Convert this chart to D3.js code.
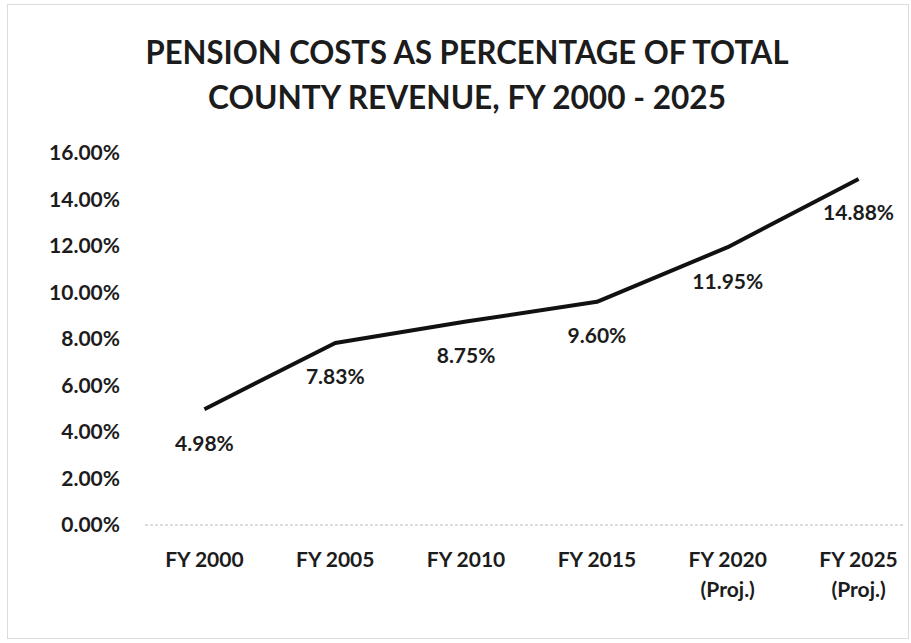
<!DOCTYPE html>
<html>
<head>
<meta charset="utf-8">
<script src="https://cdn.jsdelivr.net/npm/d3@7"></script>
<style>
  body { margin: 0; background: #fff; }
  text { font-family: Lato, "Open Sans", sans-serif; font-weight: bold; fill: #1c1c1c; }
</style>
</head>
<body>
<div id="chart"></div>
<script>
// chart data
const titleLines = ["PENSION COSTS AS PERCENTAGE OF TOTAL", "COUNTY REVENUE, FY 2000 - 2025"];
const titleWidths = [643, 518];
const categories = [["FY 2000"], ["FY 2005"], ["FY 2010"], ["FY 2015"], ["FY 2020", "(Proj.)"], ["FY 2025", "(Proj.)"]];
const values = [4.98, 7.83, 8.75, 9.60, 11.95, 14.88];
const yTicks = [0, 2, 4, 6, 8, 10, 12, 14, 16];

const W = 911, H = 643;
const svg = d3.select('#chart').append('svg')
  .attr('width', W).attr('height', H);

// faint scan border
svg.append('rect')
  .attr('x', 7.5).attr('y', 4.5).attr('width', 901).attr('height', 634)
  .attr('fill', 'none').attr('stroke', '#dcdcdc').attr('stroke-width', 1);

const x = d3.scaleBand().domain(d3.range(categories.length)).range([139, 924]);
const y = d3.scaleLinear().domain([0, 16]).range([525, 153]);
const cx = i => x(i) + x.bandwidth() / 2;

// title
svg.selectAll('.title')
  .data(titleLines)
  .enter().append('text')
    .attr('class', 'title')
    .attr('x', 467)
    .attr('y', (d, i) => 64 + i * 45)
    .attr('text-anchor', 'middle')
    .attr('textLength', (d, i) => titleWidths[i])
    .attr('lengthAdjust', 'spacingAndGlyphs')
    .style('font-size', '32px')
    .text(d => d);

// baseline (dotted, faint like the scan)
svg.append('line')
  .attr('x1', 145).attr('x2', 905)
  .attr('y1', y(0)).attr('y2', y(0))
  .attr('stroke', '#bbb').attr('stroke-width', 1)
  .attr('stroke-dasharray', '3,2');

// y axis labels
svg.selectAll('.ytick')
  .data(yTicks)
  .enter().append('text')
    .attr('class', 'ytick')
    .attr('x', 120)
    .attr('y', d => y(d))
    .attr('dy', '0.35em')
    .attr('text-anchor', 'end')
    .style('font-size', '21px')
    .text(d => d.toFixed(2) + '%');

// x axis labels
const xl = svg.selectAll('.xlab')
  .data(categories)
  .enter().append('text')
    .attr('class', 'xlab')
    .attr('x', (d, i) => cx(i))
    .attr('y', 567)
    .attr('text-anchor', 'middle')
    .style('font-size', '21px');
xl.selectAll('tspan')
  .data(d => d)
  .enter().append('tspan')
    .attr('x', function() { return d3.select(this.parentNode).attr('x'); })
    .attr('dy', (d, i) => i ? 30 : 0)
    .text(d => d);

// line
const line = d3.line()
  .x((d, i) => cx(i))
  .y(d => y(d));

svg.append('path')
  .datum(values)
  .attr('d', line)
  .attr('fill', 'none')
  .attr('stroke', '#111')
  .attr('stroke-width', 4)
  .attr('stroke-linejoin', 'round');

// data labels under the points
svg.selectAll('.dlab')
  .data(values)
  .enter().append('text')
    .attr('class', 'dlab')
    .attr('x', (d, i) => cx(i))
    .attr('y', d => y(d) + 34)
    .attr('dy', '0.35em')
    .attr('text-anchor', 'middle')
    .style('font-size', '21px')
    .text(d => d.toFixed(2) + '%');
</script>
</body>
</html>
